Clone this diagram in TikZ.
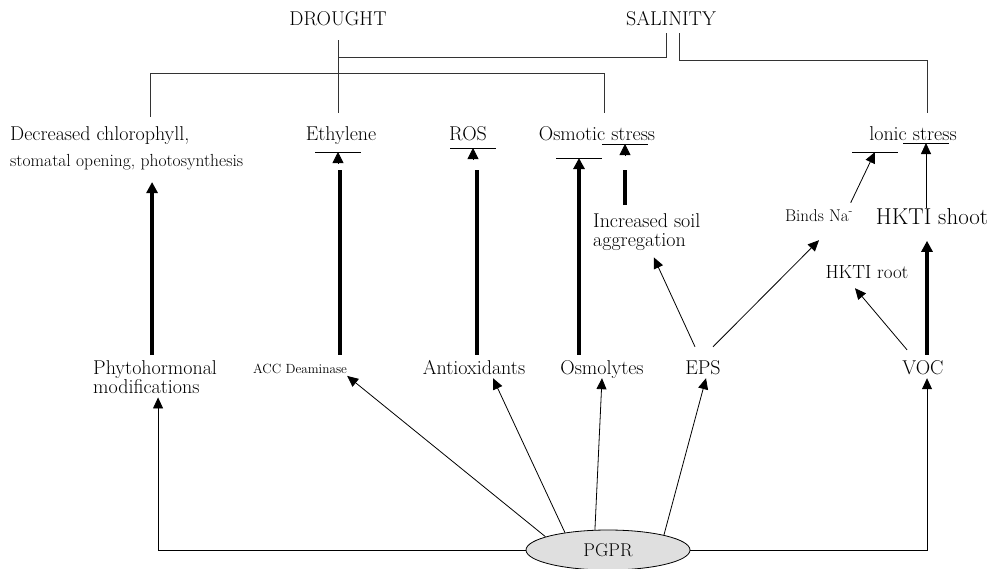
\documentclass[tikz,border=0pt]{standalone}
\usetikzlibrary{arrows.meta,shapes.geometric}

\begin{document}
\begin{tikzpicture}[x=1pt,y=-1pt,
    lbl/.style={inner sep=0pt,anchor=base,font=\fontsize{20}{19}\selectfont,text height=14pt,text depth=4pt},
    lbltwo/.style={inner sep=0pt,anchor=north west,align=left,font=\fontsize{20}{19}\selectfont},
    stressln/.style={line width=0.9pt,black!80},
    barln/.style={line width=0.9pt},
    thinarr/.style={line width=0.8pt,-{Triangle[length=11pt,width=10pt]}},
    thickln/.style={line width=3.5pt},
    thickarr/.style={line width=3.5pt,-{Triangle[length=11pt,width=11pt]}},
    tiparr/.style={line width=0.8pt,-{Triangle[length=11pt,width=11pt]}}]
  \useasboundingbox (0,0) rectangle (992,568);

  % stresses and their effects
  \node[lbl] (drought) at (338,25) {DROUGHT};
  \node[lbl] (salinity) at (671,25) {SALINITY};
  \node[lbl,anchor=base west] (chloro) at (10,140) {Decreased chlorophyll,};
  \node[lbl,anchor=base west,font=\fontsize{17.5}{18}\selectfont] (stomata) at (10,166) {stomatal opening, photosynthesis};
  \node[lbl] (ethylene) at (341,140) {Ethylene};
  \node[lbl] (ros) at (468,140) {ROS};
  \node[lbl] (osmotic) at (597,140) {Osmotic stress};
  \node[lbl] (ionic) at (913,140) {lonic stress};

  \draw[stressln] ([yshift=-11pt]drought.south) -- ([yshift=13pt]drought.south |- ethylene.north);
  \draw[stressln] (drought.south |- 0,57) -| ([xshift=-5pt,yshift=-4pt]salinity.south);
  \draw[stressln] ([xshift=140pt,yshift=9pt]chloro.north west) |- (604,73) -- ([xshift=7pt,yshift=13pt]osmotic.north);
  \draw[stressln] ([xshift=8pt,yshift=-4pt]salinity.south) |- (927,60) -- ([xshift=14pt,yshift=13pt]ionic.north);

  % inhibition bars
  \coordinate (ethbar) at (338,152);
  \coordinate (rosbar) at (473,148);
  \coordinate (osmbarA) at (579,158);
  \coordinate (osmbarB) at (625,144);
  \coordinate (ionbarA) at (875,152);
  \coordinate (ionbarB) at (926,143);
  \foreach \b in {ethbar,rosbar,osmbarA,osmbarB,ionbarA,ionbarB}
    \draw[barln] ([xshift=-23pt]\b) -- ([xshift=23pt]\b);
  \foreach \b in {ethbar,rosbar,osmbarB}
    \draw[tiparr] ([yshift=-12pt]\b) -- (\b);

  % intermediate effects
  \node[lbltwo] (soil) at (593,213) {Increased soil\\aggregation};
  \node[lbl,font=\fontsize{17}{18}\selectfont,text height=12pt,text depth=3.5pt] (binds) at (819,221) {Binds Na\textsuperscript{-}};
  \node[lbl,font=\fontsize{23}{24}\selectfont,text height=16pt,text depth=4.5pt] (hktishoot) at (932,224) {HKTI shoot};
  \node[lbl,font=\fontsize{19}{20}\selectfont,text height=13pt,text depth=4pt] (hktiroot) at (867,278) {HKTI root};

  % PGPR mechanisms
  \node[lbltwo] (phyto) at (93,360) {Phytohormonal\\modifications};
  \node[lbl,font=\fontsize{13.3}{14}\selectfont,text height=9.2pt,text depth=2.7pt] (acc) at (300,373) {ACC Deaminase};
  \node[lbl] (antiox) at (474,374) {Antioxidants};
  \node[lbl] (osmolytes) at (602,374) {Osmolytes};
  \node[lbl] (eps) at (703,374) {EPS};
  \node[lbl] (voc) at (923,374) {VOC};
  \node[ellipse,draw,fill=gray!25,line width=0.8pt,minimum width=164pt,minimum height=40pt,inner sep=0pt,
    font=\fontsize{18.5}{19}\selectfont] (pgpr) at (608,550) {PGPR};

  % thick links up to the stresses
  \draw[thickarr] ([xshift=-3pt,yshift=5pt]phyto.north) -- ++(0,-173);
  \draw[thickln] ([xshift=-7pt,yshift=8.8pt]acc.north east) -- ++(0,-185);
  \draw[thickln] ([xshift=3pt,yshift=5pt]antiox.north) -- ++(0,-185);
  \draw[thickarr] ([xshift=-23pt,yshift=5pt]osmolytes.north) -- (osmbarA);
  \draw[thickln] ([xshift=32pt,yshift=8pt]soil.north west) -- ++(0,-35);
  \draw[thickarr] ([xshift=4pt,yshift=5pt]voc.north) -- ++(0,-114);
  \draw[thinarr] (hktishoot.north -| ionbarB) -- (ionbarB);

  % from PGPR
  \draw[thinarr] (pgpr.west) -| ([xshift=3pt,yshift=-4pt]phyto.south);
  \draw[thinarr] (pgpr.168) -- (acc.south east);
  \draw[thinarr] (pgpr.158) -- ([xshift=19pt]antiox.south);
  \draw[thinarr] (pgpr.123) -- (osmolytes.south);
  \draw[thinarr] (pgpr.15) -- ([xshift=3pt]eps.south);
  \draw[thinarr] (pgpr.east) -| ([xshift=4pt]voc.south);

  % EPS and VOC
  \draw[thinarr] ([xshift=-8pt,yshift=13pt]eps.north) -- ([xshift=7pt,yshift=-7pt]soil.south);
  \draw[thinarr] ([xshift=10pt,yshift=13pt]eps.north) -- ([yshift=-15.5pt]binds.south);
  \draw[thinarr] ([xshift=-2.5pt,yshift=6pt]binds.north east) -- (ionbarA);
  \draw[thinarr] ([xshift=-16pt,yshift=10pt]voc.north) -- ([xshift=-12pt,yshift=-6pt]hktiroot.south);
\end{tikzpicture}
\end{document}
